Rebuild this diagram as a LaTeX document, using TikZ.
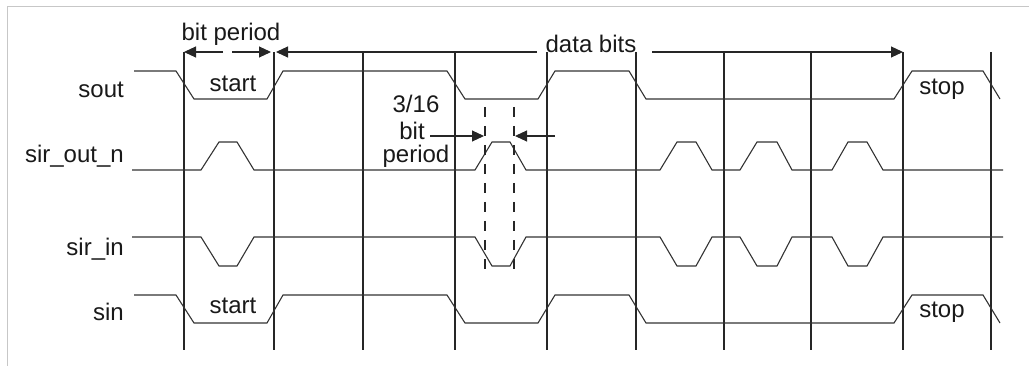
\documentclass[tikz,border=0pt]{standalone}
\usepackage{fontspec}
\setmainfont{Liberation Sans}
\usetikzlibrary{arrows.meta}
\begin{document}
\begin{tikzpicture}[x=1pt,y=-1pt,
  sig/.style={line width=1.1pt, draw=black!80, line join=miter},
  gridline/.style={line width=1.1pt, draw=black!85},
  lbl/.style={font=\fontsize{24}{28}\selectfont, inner sep=0pt, text=black!90},
  tip/.style={-{Triangle[length=12pt,width=11pt]}, line width=1.1pt, draw=black!85},
  dashline/.style={line width=1.1pt, draw=black!85, dash pattern=on 10pt off 9pt},
  framel/.style={draw=black!22, line width=1pt}]
\useasboundingbox (0,0) rectangle (1029,366);
\draw[framel] (7,366) -- (7,7) -- (1029,7);
% grid lines
\foreach \x/\n in {184/g0,274/g1,363/g2,455/g3,547/g4,636/g5,724/g6,811/g7,903/g8,991/g9}{
  \coordinate (\n t) at (\x,52);
  \coordinate (\n b) at (\x,350);
  \draw[gridline] (\n t) -- (\n b);
}
% signal labels
\node[lbl, anchor=base east] (lsout) at (124,98) {sout};
\node[lbl, anchor=base east] (lsiro) at (124,163) {sir\_out\_n};
\node[lbl, anchor=base east] (lsiri) at (124,256) {sir\_in};
\node[lbl, anchor=base east] (lsin) at (124,321) {sin};
% sout
\draw[sig] (134,71) -- (176,71) -- (194,99) -- (267,99) -- (283,71) -- (447,71) -- (465,99)
  -- (538,99) -- (555,71) -- (629,71) -- (646,99) -- (894,99) -- (912,71) -- (983,71) -- (1000,99);
% sin
\draw[sig] (134,295) -- (176,295) -- (194,323) -- (267,323) -- (283,295) -- (447,295) -- (465,323)
  -- (538,323) -- (555,295) -- (629,295) -- (646,323) -- (894,323) -- (912,295) -- (983,295) -- (1000,323);
% sir_out_n
\draw[sig] (132,170) -- (201,170) -- (219,142) -- (237,142) -- (254,170)
  -- (475,170) -- (492,142) -- (510,142) -- (526,170)
  -- (660,170) -- (677,142) -- (696,142) -- (712,170)
  -- (740,170) -- (757,142) -- (777,142) -- (792,170)
  -- (832,170) -- (848,142) -- (867,142) -- (883,170) -- (1003,170);
% sir_in
\draw[sig] (132,237) -- (201,237) -- (219,266) -- (237,266) -- (254,237)
  -- (475,237) -- (492,266) -- (510,266) -- (526,237)
  -- (660,237) -- (677,266) -- (696,266) -- (712,237)
  -- (740,237) -- (757,266) -- (777,266) -- (792,237)
  -- (832,237) -- (848,266) -- (867,266) -- (883,237) -- (1003,237);
% state labels
\node[lbl, anchor=base] (st1) at (233,92) {start};
\node[lbl, anchor=base] (st2) at (233,314) {start};
\node[lbl, anchor=base] (sp1) at (942,95) {stop};
\node[lbl, anchor=base] (sp2) at (942,318) {stop};
% bit period
\node[lbl, anchor=base] (bp) at (231,41) {bit period};
\coordinate (bpl) at (223,52);
\coordinate (bpr) at (232,52);
\coordinate (bpe) at (271,52);
\draw[tip] (bpl) -- (g0t);
\draw[tip] (bpr) -- (bpe);
% data bits
\node[lbl, anchor=base] (db) at (591,53) {data bits};
\coordinate (dbl) at (537,52);
\coordinate (dbr) at (652,52);
\coordinate (dbs) at (276,52);
\draw[tip] (dbl) -- (dbs);
\draw[tip] (dbr) -- (g8t);
% 3/16 bit period
\coordinate (d1t) at (485,107);
\coordinate (d1b) at (485,270);
\coordinate (d2t) at (514,107);
\coordinate (d2b) at (514,270);
\draw[dashline] (d1t) -- (d1b);
\draw[dashline] (d2t) -- (d2b);
\node[lbl, anchor=base] (f1) at (416,113) {3/16};
\node[lbl, anchor=base] (f2) at (412,140) {bit};
\node[lbl, anchor=base] (f3) at (416,163) {period};
\coordinate (a1s) at (430,136);
\coordinate (a1e) at (484,136);
\coordinate (a2s) at (555,136);
\coordinate (a2e) at (515,136);
\draw[tip] (a1s) -- (a1e);
\draw[tip] (a2s) -- (a2e);
\end{tikzpicture}
\end{document}
